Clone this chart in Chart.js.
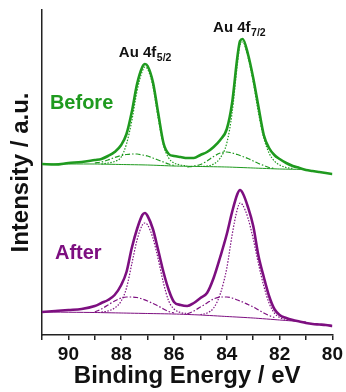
<!DOCTYPE html>
<html>
<head>
<meta charset="utf-8">
<script src="https://cdn.jsdelivr.net/npm/chart.js@4/dist/chart.umd.min.js"></script>
<style>
  html, body { margin: 0; padding: 0; background: #fff; }
  canvas { display: block; }
</style>
</head>
<body>
<canvas id="xps" width="346" height="392"></canvas>
<script>
// binding energy grid (eV) for the measured spectra
const be = [91, 90.5, 90, 89.5, 89, 88.75, 88.5, 88.25, 88, 87.8, 87.6, 87.4, 87.2, 87.1, 87.0,
            86.8, 86.6, 86.4, 86.2, 86, 85.75, 85.5, 85.25, 85, 84.75, 84.5, 84.25, 84,
            83.8, 83.6, 83.5, 83.4, 83.2, 83, 82.8, 82.6, 82.4, 82.2, 82, 81.75, 81.5,
            81.25, 81, 80.75, 80.5, 80.25, 80];

// measured intensity (a.u., arbitrary offset per spectrum)
const beforeCounts = [170, 169.5, 171, 172, 174, 175, 178, 182, 189, 200, 222, 250, 267, 270, 268,
                      252, 221, 191, 180, 178, 177, 176, 176, 179, 182, 187, 194, 205,
                      231, 277, 293, 295, 280, 256, 227, 199, 186, 179, 175, 171, 168,
                      166, 164, 163, 162, 161, 160];
const afterCounts = [22, 23, 24, 25, 28, 31, 34, 39, 49, 62, 86, 105, 119, 121, 118,
                     105, 84, 62, 44, 32, 29, 28, 31, 36, 41, 56, 77, 100,
                     122, 140, 144, 141, 127, 108, 78, 57, 38, 25, 19, 16, 14,
                     12.5, 11, 10, 9.5, 9, 8];

// fitted components
const peak52BE = [88.75, 88.5, 88.25, 88, 87.8, 87.6, 87.4, 87.2, 87.1, 87.0, 86.8, 86.6, 86.4, 86.2, 86, 85.75, 85.5];
const beforePeak52 = [170, 171, 172.5, 177, 190, 213, 243, 263, 267, 265, 248, 216, 189, 176, 171, 169, 168];
const afterPeak52 = [22, 23, 26, 33, 46, 70, 94, 109, 111, 109, 96, 75, 51, 33, 25, 21.5, 20.5];

const peak72BE = [85, 84.75, 84.5, 84.25, 84, 83.8, 83.6, 83.5, 83.4, 83.2, 83, 82.8, 82.6, 82.4, 82.2, 82, 81.75, 81.5];
const beforePeak72 = [167.5, 168, 170, 176, 191, 221, 270, 289, 292, 277, 252, 221, 196, 181, 173, 169, 166.5, 165.5];
const afterPeak72 = [19.5, 21, 26, 40, 66, 99, 125, 131, 129, 116, 95, 70, 48, 31, 21, 16.5, 14.5, 13.5];

const sat52BE = [89, 88.75, 88.5, 88.25, 88, 87.8, 87.6, 87.4, 87.2, 87.0, 86.8, 86.6, 86.4, 86.2, 86];
const beforeSat52 = [171, 172, 174, 176.5, 178.5, 179.5, 180, 180, 179, 178, 176, 174, 172, 170, 168.5];
const afterSat52 = [22, 25, 29, 33, 36, 37, 37, 36.5, 35, 33, 30.5, 28, 25, 22.5, 21];

const sat72BE = [85.5, 85.25, 85, 84.75, 84.5, 84.25, 84, 83.8, 83.6, 83.4, 83.2, 83, 82.8, 82.6, 82.4, 82.2];
const beforeSat72 = [167, 168, 169.5, 173, 177.5, 181, 182, 181, 179.5, 177.5, 175.5, 173, 170.5, 168.5, 166.5, 165.5];
const afterSat72 = [20, 23, 27, 31, 35, 37, 37, 36, 34, 32, 29.5, 27, 24, 21, 18.5, 16.5];

const bgBE = [91, 89, 88, 87, 86, 85, 84, 83, 82, 81];
const beforeBg = [170, 170, 169.5, 169, 168, 167.5, 167, 166, 165, 164.5];
const afterBg = [22, 21.5, 21, 20.5, 20, 19, 17.5, 16, 14, 12];

const GREEN = '#1f9a1f';
const PURPLE = '#7d0f80';
const FONT = "'Liberation Sans', Arial, sans-serif";

function pts(xs, ys) {
    return xs.map((x, i) => ({x: x, y: ys[i]}));
}

function measured(ys, color) {
    return {data: pts(be, ys), borderColor: color, borderWidth: 2.6, pointRadius: 0,
            cubicInterpolationMode: 'monotone'};
}
function dotted(xs, ys, color) {
    return {data: pts(xs, ys), borderColor: color, borderWidth: 1.2, borderDash: [1.5, 1.5],
            pointRadius: 0, cubicInterpolationMode: 'monotone'};
}
function dashDot(xs, ys, color) {
    return {data: pts(xs, ys), borderColor: color, borderWidth: 1.2, borderDash: [5, 2, 1.5, 2],
            pointRadius: 0, cubicInterpolationMode: 'monotone'};
}
function background(xs, ys, color) {
    return {data: pts(xs, ys), borderColor: color, borderWidth: 1, pointRadius: 0, tension: 0.2};
}

// text labels placed in data coordinates
const textPlugin = {
    id: 'xpsLabels',
    afterDatasetsDraw(chart) {
        const {ctx, scales: {x, y}} = chart;
        ctx.save();
        ctx.textBaseline = 'middle';
        ctx.textAlign = 'left';
        ctx.font = 'bold 20px ' + FONT;
        ctx.fillStyle = GREEN;
        ctx.fillText('Before', x.getPixelForValue(90.7), y.getPixelForValue(231));
        ctx.fillStyle = PURPLE;
        ctx.fillText('After', x.getPixelForValue(90.51), y.getPixelForValue(80.5));

        function peakLabel(bx, by, sub) {
            const px = x.getPixelForValue(bx), py = y.getPixelForValue(by);
            ctx.textBaseline = 'alphabetic';
            ctx.fillStyle = '#111';
            ctx.font = 'bold 15px ' + FONT;
            ctx.fillText('Au 4f', px, py);
            const w = ctx.measureText('Au 4f').width;
            ctx.font = 'bold 10.5px ' + FONT;
            ctx.fillText(sub, px + w + 0.5, py + 3.5);
        }
        peakLabel(88.09, 277, '5/2');
        peakLabel(84.52, 302, '7/2');

        // panel letter, cropped at the top edge
        ctx.font = 'bold 22px ' + FONT;
        ctx.fillStyle = '#111';
        ctx.textBaseline = 'alphabetic';
        ctx.fillText('(a)', 3, -5);
        ctx.restore();
    }
};

new Chart(document.getElementById('xps'), {
    type: 'line',
    plugins: [textPlugin],
    data: {
        datasets: [
            measured(beforeCounts, GREEN),
            measured(afterCounts, PURPLE),
            dotted(peak52BE, beforePeak52, GREEN),
            dotted(peak72BE, beforePeak72, GREEN),
            dashDot(sat52BE, beforeSat52, GREEN),
            dashDot(sat72BE, beforeSat72, GREEN),
            background(bgBE, beforeBg, GREEN),
            dotted(peak52BE, afterPeak52, PURPLE),
            dotted(peak72BE, afterPeak72, PURPLE),
            dashDot(sat52BE, afterSat52, PURPLE),
            dashDot(sat72BE, afterSat72, PURPLE),
            background(bgBE, afterBg, PURPLE)
        ]
    },
    options: {
        responsive: false,
        animation: false,
        layout: {
            padding: {left: 0, right: 13, top: 10, bottom: 0}
        },
        plugins: {
            legend: {display: false},
            tooltip: {enabled: false}
        },
        scales: {
            x: {
                type: 'linear',
                reverse: true,
                min: 80,
                max: 91,
                afterFit: s => { s.height = 57; },
                border: {display: true, color: '#222', width: 1.5},
                grid: {
                    display: true,
                    drawOnChartArea: false,
                    tickLength: 5,
                    color: '#222',
                    lineWidth: 1.5
                },
                ticks: {
                    stepSize: 1,
                    autoSkip: false,
                    maxRotation: 0,
                    padding: 3,
                    color: '#111',
                    font: {family: FONT, size: 19, weight: 'bold'},
                    callback: v => (v % 2 === 0 ? v : '')
                },
                title: {
                    display: true,
                    text: 'Binding Energy / eV',
                    color: '#111',
                    font: {family: FONT, size: 24, weight: 'bold'},
                    padding: {top: 0, bottom: 1}
                }
            },
            y: {
                min: -1,
                max: 324,
                afterFit: s => { s.width = 42; },
                border: {display: true, color: '#222', width: 1.5},
                grid: {display: false},
                ticks: {display: false},
                title: {
                    display: true,
                    text: 'Intensity / a.u.',
                    color: '#111',
                    font: {family: FONT, size: 24, weight: 'bold'},
                    padding: {top: 7, bottom: 0}
                }
            }
        }
    }
});
</script>
</body>
</html>
